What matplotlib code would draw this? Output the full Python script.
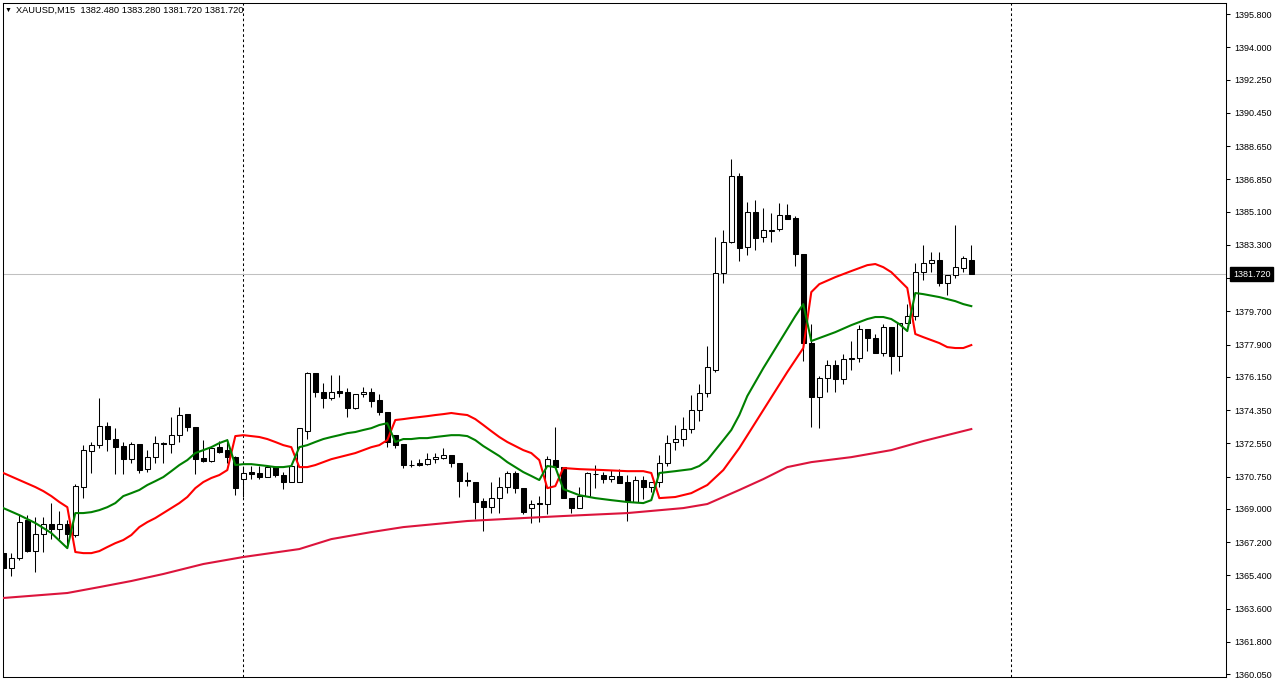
import numpy as np
import matplotlib
matplotlib.use("Agg")
import matplotlib.pyplot as plt

plt.rcParams["font.family"] = ["Liberation Sans", "DejaVu Sans"]

# ----------------------------
# Data (XAUUSD, M15)
# ----------------------------

symbol = "XAUUSD,M15"

opens = [1366.60, 1365.79, 1366.33, 1368.39, 1366.71, 1367.63, 1368.17, 1367.90, 1368.17, 1367.58,
         1370.18, 1372.13, 1372.45, 1373.48, 1372.78, 1372.40, 1371.69, 1372.51, 1371.15, 1371.80,
         1372.56, 1372.51, 1372.99, 1374.13, 1373.43, 1371.75, 1371.58, 1372.34, 1372.18, 1371.80,
         1370.61, 1370.97, 1370.94, 1370.72, 1371.26, 1370.83, 1370.45, 1370.45, 1373.21, 1376.35,
         1375.32, 1375.00, 1375.38, 1375.32, 1374.46, 1375.22, 1375.32, 1374.89, 1374.24, 1372.99,
         1372.51, 1371.40, 1371.48, 1371.42, 1371.69, 1371.75, 1371.91, 1371.48, 1370.56, 1370.45,
         1369.42, 1369.09, 1369.58, 1370.18, 1370.94, 1370.12, 1369.04, 1369.31, 1369.26, 1371.64,
         1371.26, 1369.58, 1369.04, 1369.69, 1370.86, 1370.83, 1370.61, 1370.78, 1370.45, 1369.37,
         1370.56, 1370.18, 1370.45, 1371.48, 1372.62, 1372.78, 1373.32, 1374.35, 1375.27, 1376.52,
         1381.77, 1383.45, 1387.02, 1383.18, 1385.07, 1383.72, 1384.07, 1384.15, 1384.91, 1384.75,
         1382.80, 1377.98, 1375.05, 1376.08, 1376.79, 1376.03, 1377.11, 1377.17, 1378.74, 1378.25,
         1377.44, 1378.85, 1377.28, 1379.06, 1379.44, 1381.82, 1382.31, 1382.47, 1381.23, 1381.66,
         1382.04, 1382.48]

highs = [1367.14, 1366.60, 1368.66, 1368.66, 1368.55, 1368.55, 1369.31, 1368.88, 1368.39, 1370.34,
         1372.45, 1372.62, 1375.00, 1373.70, 1373.37, 1372.62, 1372.62, 1372.51, 1372.18, 1372.94,
         1372.60, 1373.97, 1374.51, 1374.13, 1373.43, 1372.72, 1372.40, 1372.67, 1372.78, 1371.86,
         1371.26, 1371.32, 1371.32, 1371.32, 1371.32, 1370.99, 1371.37, 1373.37, 1376.41, 1376.35,
         1375.81, 1376.24, 1376.24, 1375.54, 1375.22, 1375.59, 1375.54, 1375.22, 1374.24, 1372.99,
         1372.51, 1371.64, 1371.69, 1372.02, 1372.02, 1372.29, 1371.91, 1371.48, 1370.99, 1370.45,
         1369.58, 1370.45, 1370.72, 1371.04, 1371.04, 1370.12, 1369.47, 1369.69, 1371.86, 1373.43,
         1371.26, 1369.58, 1370.18, 1370.99, 1371.37, 1370.99, 1371.10, 1371.15, 1370.83, 1370.78,
         1370.78, 1370.45, 1371.91, 1372.99, 1373.54, 1373.97, 1375.16, 1375.76, 1377.82, 1383.72,
         1384.10, 1387.94, 1387.19, 1385.61, 1385.72, 1385.29, 1385.02, 1385.56, 1385.51, 1384.85,
         1382.80, 1379.01, 1376.19, 1377.06, 1377.06, 1377.39, 1378.09, 1378.96, 1378.74, 1378.47,
         1379.01, 1378.85, 1379.06, 1380.09, 1382.31, 1383.29, 1382.91, 1382.91, 1381.66, 1384.37,
         1382.69, 1383.28]

lows = [1365.03, 1365.36, 1366.22, 1366.66, 1365.57, 1366.66, 1367.36, 1367.36, 1366.87, 1367.47,
        1369.58, 1370.94, 1372.29, 1372.13, 1370.88, 1370.88, 1371.48, 1370.94, 1370.99, 1371.48,
        1371.48, 1372.02, 1372.62, 1373.21, 1370.88, 1371.53, 1371.53, 1372.02, 1371.48, 1369.74,
        1369.64, 1370.61, 1370.61, 1370.70, 1370.72, 1370.07, 1370.45, 1370.45, 1372.78, 1375.05,
        1374.46, 1374.89, 1375.05, 1373.97, 1374.40, 1375.05, 1374.51, 1374.08, 1372.34, 1372.29,
        1371.21, 1371.26, 1371.32, 1371.37, 1371.48, 1371.69, 1371.26, 1369.64, 1370.23, 1368.44,
        1367.79, 1368.77, 1368.77, 1369.85, 1369.85, 1368.71, 1368.23, 1368.28, 1368.71, 1371.21,
        1369.58, 1368.77, 1369.04, 1369.69, 1370.12, 1370.39, 1370.45, 1370.39, 1368.34, 1369.37,
        1369.53, 1369.91, 1370.18, 1371.32, 1372.18, 1372.40, 1373.10, 1373.75, 1375.05, 1376.41,
        1381.23, 1383.40, 1382.43, 1382.77, 1383.02, 1383.45, 1383.45, 1384.04, 1384.69, 1382.15,
        1377.00, 1373.43, 1373.37, 1375.32, 1375.32, 1375.76, 1376.52, 1376.95, 1377.55, 1377.44,
        1377.28, 1376.30, 1376.46, 1379.06, 1379.23, 1381.42, 1381.82, 1381.07, 1380.58, 1381.50,
        1381.82, 1381.72]

closes = [1365.79, 1366.33, 1368.28, 1366.71, 1367.63, 1368.17, 1367.90, 1368.17, 1367.63, 1370.23,
          1372.18, 1372.45, 1373.48, 1372.78, 1372.34, 1371.69, 1372.51, 1371.10, 1371.80, 1372.56,
          1372.50, 1372.99, 1374.08, 1373.43, 1371.69, 1371.58, 1372.29, 1372.07, 1371.80, 1370.12,
          1370.94, 1370.91, 1370.72, 1371.26, 1370.83, 1370.45, 1371.32, 1373.37, 1376.35, 1375.32,
          1375.00, 1375.32, 1375.27, 1374.46, 1375.22, 1375.32, 1374.84, 1374.24, 1372.62, 1372.45,
          1371.37, 1371.37, 1371.37, 1371.69, 1371.80, 1371.91, 1371.48, 1370.50, 1370.50, 1369.37,
          1369.09, 1369.58, 1370.18, 1370.94, 1370.12, 1368.82, 1369.26, 1369.26, 1371.69, 1371.26,
          1369.58, 1369.04, 1369.69, 1370.94, 1370.89, 1370.61, 1370.78, 1370.39, 1369.42, 1370.56,
          1370.18, 1370.45, 1371.48, 1372.56, 1372.78, 1373.32, 1374.35, 1375.27, 1376.68, 1381.77,
          1383.45, 1387.02, 1383.13, 1385.07, 1383.67, 1384.10, 1384.12, 1384.91, 1384.69, 1382.80,
          1377.98, 1375.05, 1376.08, 1376.79, 1376.03, 1377.11, 1377.17, 1378.74, 1378.25, 1377.44,
          1378.85, 1377.28, 1379.06, 1379.44, 1381.82, 1382.31, 1382.47, 1381.23, 1381.66, 1382.09,
          1382.58, 1381.72]

# indicator lines, read at bar indices
red_bars = [0, 2, 4, 5, 6, 7, 8, 9, 10, 11, 12, 13, 14, 15, 16, 17, 18, 19, 20, 21, 22, 23, 24, 25,
            26, 27, 28, 29, 30, 31, 32, 33, 34, 35, 36, 37, 38, 39, 40, 41, 42, 43, 44, 45, 46, 47,
            48, 49, 50, 51, 52, 53, 54, 55, 56, 57, 58, 59, 60, 61, 62, 63, 64, 65, 66, 67, 68, 69,
            70, 72, 75, 78, 80, 81, 82, 84, 86, 88, 90, 92, 95, 98, 100, 101, 102, 104, 106, 108,
            109, 110, 111, 112, 113, 114, 115, 116, 117, 118, 119, 120, 121]
red_vals = [1370.94, 1370.56, 1370.18, 1369.96, 1369.69, 1369.37, 1369.09, 1366.66, 1366.60, 1366.60,
            1366.71, 1366.93, 1367.14, 1367.31, 1367.58, 1368.01, 1368.28, 1368.50, 1368.77, 1369.04,
            1369.31, 1369.64, 1370.12, 1370.45, 1370.67, 1370.83, 1371.10, 1372.94, 1372.99, 1372.94,
            1372.89, 1372.78, 1372.62, 1372.45, 1372.34, 1371.26, 1371.26, 1371.37, 1371.53, 1371.69,
            1371.80, 1371.91, 1372.02, 1372.18, 1372.34, 1372.45, 1372.72, 1373.81, 1373.86, 1373.92,
            1373.97, 1374.02, 1374.08, 1374.13, 1374.19, 1374.13, 1374.08, 1373.86, 1373.54, 1373.21,
            1372.89, 1372.62, 1372.40, 1372.18, 1372.02, 1371.64, 1370.12, 1370.23, 1371.21, 1371.15,
            1371.10, 1371.04, 1371.04, 1370.94, 1369.58, 1369.64, 1369.85, 1370.29, 1371.10, 1372.29,
            1374.35, 1376.41, 1377.71, 1380.74, 1381.17, 1381.55, 1381.88, 1382.20, 1382.26, 1382.09,
            1381.82, 1381.39, 1380.96, 1378.47, 1378.30, 1378.14, 1377.98, 1377.76, 1377.71, 1377.71,
            1377.87]

green_bars = [0, 2, 4, 6, 8, 9, 10, 11, 12, 13, 14, 15, 16, 17, 18, 19, 20, 21, 22, 23, 24, 25, 26,
              27, 28, 29, 30, 31, 32, 33, 34, 35, 36, 37, 38, 39, 40, 41, 42, 43, 44, 45, 46, 47, 48,
              49, 50, 51, 52, 53, 54, 55, 56, 57, 58, 59, 60, 61, 62, 63, 64, 65, 66, 67, 68, 69, 70,
              72, 74, 76, 78, 80, 81, 82, 84, 86, 87, 88, 89, 90, 91, 92, 93, 95, 97, 99, 100, 101,
              102, 104, 106, 108, 109, 110, 111, 112, 113, 114, 115, 117, 119, 120, 121]
green_vals = [1369.04, 1368.66, 1368.23, 1367.69, 1366.87, 1368.77, 1368.77, 1368.82, 1368.93, 1369.09,
              1369.31, 1369.69, 1369.85, 1370.02, 1370.29, 1370.50, 1370.72, 1371.04, 1371.37, 1371.64,
              1372.02, 1372.18, 1372.34, 1372.56, 1372.72, 1371.37, 1371.42, 1371.42, 1371.37, 1371.32,
              1371.26, 1371.26, 1371.32, 1372.34, 1372.45, 1372.62, 1372.78, 1372.89, 1372.99, 1373.10,
              1373.16, 1373.27, 1373.37, 1373.54, 1373.64, 1372.62, 1372.78, 1372.78, 1372.83, 1372.83,
              1372.89, 1372.94, 1372.99, 1372.99, 1372.94, 1372.72, 1372.40, 1372.13, 1371.86, 1371.53,
              1371.26, 1370.99, 1370.78, 1370.56, 1371.32, 1371.26, 1370.07, 1369.74, 1369.58, 1369.47,
              1369.37, 1369.31, 1369.47, 1370.94, 1371.04, 1371.15, 1371.32, 1371.64, 1372.18, 1372.72,
              1373.27, 1374.08, 1375.11, 1376.62, 1378.03, 1379.44, 1380.09, 1378.09, 1378.25, 1378.57,
              1378.95, 1379.28, 1379.39, 1379.39, 1379.28, 1379.01, 1378.63, 1380.69, 1380.63, 1380.47,
              1380.25, 1380.09, 1379.98]

ma_bars = [0, 8, 12, 16, 20, 25, 30, 37, 41, 46, 50, 58, 65, 70, 78, 85, 88, 92, 95, 98, 101, 106,
           111, 115, 121]
ma_vals = [1364.17, 1364.44, 1364.76, 1365.09, 1365.47, 1366.01, 1366.39, 1366.82, 1367.36, 1367.74,
           1368.01, 1368.34, 1368.50, 1368.61, 1368.77, 1369.04, 1369.26, 1370.02, 1370.61, 1371.26,
           1371.53, 1371.80, 1372.18, 1372.67, 1373.32]

day_breaks = [30, 126]

price_ticks = [1395.80, 1394.00, 1392.25, 1390.45, 1388.65, 1386.85, 1385.10, 1383.30, 1381.50,
               1379.70, 1377.90, 1376.15, 1374.35, 1372.55, 1370.75, 1369.00, 1367.20, 1365.40,
               1363.60, 1361.80, 1360.05]

# ----------------------------
# Figure
# ----------------------------

W, H = 1278, 680
fig = plt.figure(figsize=(W / 100, H / 100), dpi=100)
ax = fig.add_axes([3 / W, 3 / H, 1223 / W, 674 / H])

x = np.arange(len(opens))
o = np.array(opens)
c = np.array(closes)
up = c >= o

# wicks under bodies
ax.vlines(x, lows, highs, color="black", linewidth=0.75, zorder=2)

body_low = np.minimum(o, c)
body_h = np.maximum(np.abs(c - o), 0.01)
ax.bar(x, body_h, bottom=body_low, width=0.62,
       color=np.where(up, "white", "black"), edgecolor="black",
       linewidth=0.75, zorder=3)

# indicators
ax.plot(ma_bars, ma_vals, color="#DC143C", linewidth=1.5, zorder=4)
ax.plot(red_bars, red_vals, color="#FF0000", linewidth=1.5, zorder=4)
ax.plot(green_bars, green_vals, color="#008000", linewidth=1.5, zorder=4)

# day separators
for b in day_breaks:
    ax.axvline(b, color="black", linewidth=0.75, linestyle=(0, (2.5, 2.5)), zorder=1)

# current price line and label
last = closes[-1]
ax.axhline(last, color="#C0C0C0", linewidth=0.75, zorder=1)
ax.annotate(f"{last:.3f}", xy=(1.0, last), xycoords=("axes fraction", "data"),
            xytext=(5, 0), textcoords="offset points", va="center", ha="left",
            fontsize=6.5, color="white", zorder=10, annotation_clip=False,
            bbox=dict(boxstyle="square,pad=0.3", facecolor="black", edgecolor="black"))

ax.set_xlim(-0.04, 152.84)
ax.set_ylim(1359.89, 1396.40)

ax.yaxis.tick_right()
ax.set_yticks(price_ticks)
# the tick next to the current price is covered by the price label
ax.set_yticklabels(["" if abs(t - last) < 0.5 else f"{t:.3f}" for t in price_ticks])
ax.tick_params(axis="y", direction="out", length=3, width=0.75, pad=3,
               labelsize=6.5, colors="black")
ax.set_xticks([])

for s in ax.spines.values():
    s.set_color("black")
    s.set_linewidth(0.75)

fig.text(5 / W, 1 - 10 / H, "\u25bc", fontsize=5, va="center", ha="left")
fig.text(16 / W, 1 - 10 / H,
         f"{symbol}  {opens[-1]:.3f} {highs[-1]:.3f} {lows[-1]:.3f} {closes[-1]:.3f}",
         fontsize=6.7, va="center", ha="left")

fig.savefig("out.png", dpi=100, facecolor="white")
